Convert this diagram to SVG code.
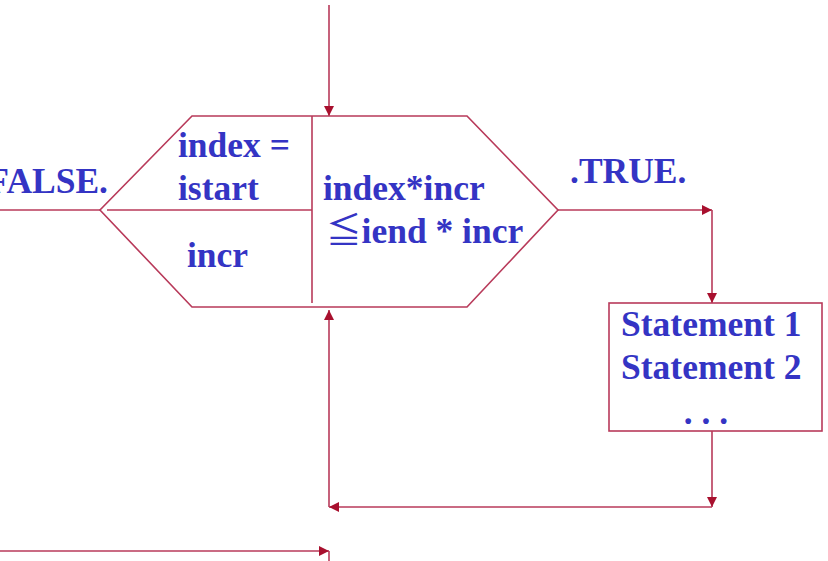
<svg xmlns="http://www.w3.org/2000/svg" width="828" height="561" viewBox="0 0 828 561">
<style>
.ln{fill:none;stroke:#b83a5a;stroke-width:1.6}
.sh{fill:#ffffff;stroke:#b83a5a;stroke-width:1.6}
.t{font-family:"Liberation Serif","Times New Roman",serif;font-weight:bold;font-size:35.5px;fill:#3434c4}
.le{font-family:"Noto Sans CJK JP","DejaVu Sans",sans-serif;font-weight:normal}
</style>
<defs>
<marker id="ah" viewBox="0 0 10 10" refX="10" refY="5" markerWidth="10" markerHeight="10" markerUnits="userSpaceOnUse" orient="auto">
<path d="M0,0 L10,5 L0,10 Z" fill="#a8102e"/>
</marker>
</defs>
<rect width="828" height="561" fill="#ffffff"/>
<g id="connectors">
<path class="ln" d="M329,5 L329,116" marker-end="url(#ah)"/>
<path class="ln" d="M0,210 L100,210"/>
<path class="ln" d="M558,210 L712,210" marker-end="url(#ah)"/>
<path class="ln" d="M712,210 L712,303" marker-end="url(#ah)"/>
<path class="ln" d="M712,431 L712,507" marker-end="url(#ah)"/>
<path class="ln" d="M712,507 L329,507" marker-end="url(#ah)"/>
<path class="ln" d="M329,507 L329,310" marker-end="url(#ah)"/>
<path class="ln" d="M0,551 L329,551" marker-end="url(#ah)"/>
<path class="ln" d="M329,551 L329,561"/>
</g>
<g id="loop">
<polygon class="sh" points="192,116 467,116 558,210 467,307 192,307 100,210"/>
<path class="ln" d="M312,116 L312,303"/>
<path class="ln" d="M107,210 L312,210"/>
<text class="t" x="178" y="157">index =</text>
<text class="t" x="178" y="200">istart</text>
<text class="t" x="187" y="267">incr</text>
<text class="t" x="323" y="200">index*incr</text>
<text class="t" x="326" y="243"><tspan class="le">≦</tspan>iend * incr</text>
</g>
<g id="false-label">
<text class="t" x="108" y="193" text-anchor="end">.FALSE.</text>
</g>
<g id="true-label">
<text class="t" x="570" y="183">.TRUE.</text>
</g>
<g id="body">
<rect class="sh" x="609" y="303" width="213" height="128"/>
<text class="t" x="621" y="336">Statement 1</text>
<text class="t" x="621" y="379">Statement 2</text>
<text class="t" x="706" y="424" text-anchor="middle">. . .</text>
</g>
</svg>
